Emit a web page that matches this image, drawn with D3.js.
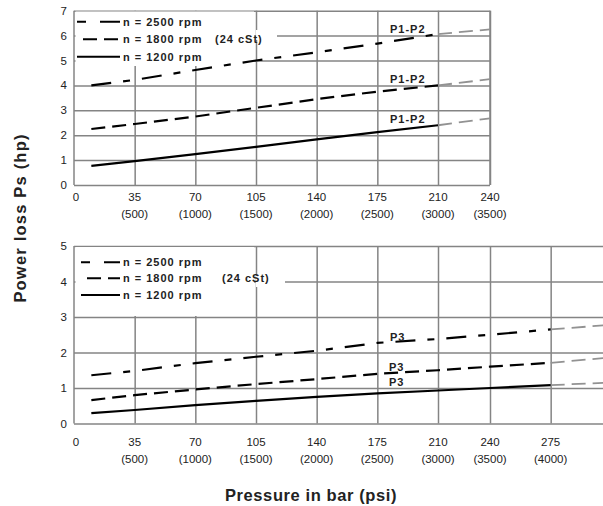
<!DOCTYPE html>
<html>
<head>
<meta charset="utf-8">
<script src="https://cdn.jsdelivr.net/npm/d3@7"></script>
<style>
  body { margin: 0; background: #fff; }
  text { font-family: "Liberation Sans", Arial, sans-serif; fill: #222; }
  .bold { font-weight: bold; letter-spacing: 1px; }
</style>
</head>
<body>
<svg id="chart" width="603" height="506"></svg>
<script>
// data
const pressureTop = [10, 35, 70, 105, 140, 175, 210, 240];
const p12_2500 = [4.0, 4.22, 4.62, 5.0, 5.33, 5.68, 6.06, 6.25];
const p12_1800 = [2.25, 2.45, 2.75, 3.1, 3.45, 3.75, 4.0, 4.25];
const p12_1200 = [0.77, 0.96, 1.24, 1.53, 1.83, 2.12, 2.4, 2.68];

const pressureBottom = [10, 35, 70, 105, 140, 175, 210, 240, 275, 307];
const p3_2500 = [1.36, 1.48, 1.7, 1.88, 2.05, 2.27, 2.38, 2.5, 2.65, 2.77];
const p3_1800 = [0.66, 0.8, 0.96, 1.11, 1.25, 1.4, 1.5, 1.6, 1.71, 1.85];
const p3_1200 = [0.29, 0.38, 0.52, 0.64, 0.75, 0.85, 0.93, 1.0, 1.08, 1.15];

const barTicksTop = [0, 35, 70, 105, 140, 175, 210, 240];
const psiTicksTop = ["", "(500)", "(1000)", "(1500)", "(2000)", "(2500)", "(3000)", "(3500)"];
const barTicksBottom = [0, 35, 70, 105, 140, 175, 210, 240, 275];
const psiTicksBottom = ["", "(500)", "(1000)", "(1500)", "(2000)", "(2500)", "(3000)", "(3500)", "(4000)"];
const hpTicksTop = [0, 1, 2, 3, 4, 5, 6, 7];
const hpTicksBottom = [0, 1, 2, 3, 4, 5];

const legendLabels = ["n = 2500 rpm", "n = 1800 rpm", "n = 1200 rpm"];
const viscosity = "(24 cSt)";

// limits where the black line becomes gray
const limitTop = 210;
const limitBottom = 275;

const svg = d3.select("#chart");
const gridCol = "#848484";
const dashes = ["20,12,7,12", "14,7", null];

const x = d3.scaleLinear().domain([0, 240]).range([74, 490]);
const yTop = d3.scaleLinear().domain([0, 7]).range([185, 10.7]);
const yBot = d3.scaleLinear().domain([0, 5]).range([423.5, 246]);

// grid + frame via axes
function grid(g, y, xTicks, yTicks, xEnd) {
    g.append("g")
        .attr("transform", "translate(0," + y.range()[1] + ")")
        .call(d3.axisBottom(x).tickValues(xTicks.filter(d => d > 0)).tickSize(y.range()[0] - y.range()[1]).tickFormat(""))
        .call(a => a.select(".domain").remove())
        .selectAll("line").attr("stroke", gridCol).attr("stroke-width", 1.5);
    g.append("g")
        .attr("transform", "translate(" + x(0) + ",0)")
        .call(d3.axisRight(y).tickValues(yTicks).tickSize(xEnd - x(0)).tickFormat(""))
        .call(a => a.select(".domain").remove())
        .selectAll("line").attr("stroke", gridCol).attr("stroke-width", 1.5);
    g.append("line").attr("x1", x(0)).attr("x2", x(0))
        .attr("y1", y.range()[1]).attr("y2", y.range()[0])
        .attr("stroke", gridCol).attr("stroke-width", 1.5);
}

function tickLabels(g, y, bars, psi, yTicks, yb) {
    g.selectAll(".bt").data(bars).enter().append("text")
        .attr("x", d => x(d) + (d === 0 ? 2 : 0)).attr("y", yb)
        .attr("text-anchor", "middle").attr("font-size", 11.5).text(d => d);
    g.selectAll(".pt").data(psi).enter().append("text")
        .attr("x", (d, i) => x(bars[i])).attr("y", yb + 17)
        .attr("text-anchor", "middle").attr("font-size", 11.5).text(d => d);
    g.selectAll(".yt").data(yTicks).enter().append("text")
        .attr("x", 67).attr("y", d => y(d) + 4)
        .attr("text-anchor", "end").attr("font-size", 11.5).text(d => d);
}

function legend(g, x0, ys, cst) {
    g.selectAll(".lg").data(legendLabels).enter().append("line")
        .attr("x1", (d, i) => i === 1 ? x0 + 6 : x0).attr("x2", 120)
        .attr("y1", (d, i) => ys[i]).attr("y2", (d, i) => ys[i])
        .attr("stroke", "#000").attr("stroke-width", 2)
        .attr("stroke-dasharray", (d, i) => i === 0 ? "9,14,20,0" : dashes[i]);
    g.selectAll(".lt").data(legendLabels).enter().append("text")
        .attr("class", "bold")
        .attr("x", 123).attr("y", (d, i) => ys[i] + 4)
        .attr("font-size", 11).text(d => d);
    g.append("text").attr("class", "bold").attr("x", cst).attr("y", ys[1] + 4)
        .attr("font-size", 11).text(viscosity);
}

function curves(g, y, px, series, limit, label, labelPos) {
    const line = d3.line().x(d => x(d[0])).y(d => y(d[1]));
    series.forEach((s, i) => {
        const pts = px.map((p, k) => [p, s[k]]);
        g.append("path").datum(pts.filter(d => d[0] >= limit))
            .attr("d", line).attr("fill", "none")
            .attr("stroke", "#929292").attr("stroke-width", 1.8)
            .attr("stroke-dasharray", "14,7");
        g.append("path").datum(pts.filter(d => d[0] <= limit))
            .attr("d", line).attr("fill", "none")
            .attr("stroke", "#000").attr("stroke-width", 2.2)
            .attr("stroke-dasharray", dashes[i]);
        g.append("text").attr("class", "bold")
            .attr("x", labelPos[i][0]).attr("y", labelPos[i][1])
            .attr("font-size", 11).text(label);
    });
}

// top chart, P1-P2
const gTop = svg.append("g");
grid(gTop, yTop, barTicksTop, hpTicksTop, x(240));
gTop.append("rect").attr("x", 75.5).attr("y", 11.5).attr("width", 178.5).attr("height", 54.5).attr("fill", "#fff");
gTop.append("rect").attr("x", 256).attr("y", 30).attr("width", 21).attr("height", 10).attr("fill", "#fff");
gTop.append("line").attr("x1", x(240)).attr("x2", x(240)).attr("y1", yTop(7)).attr("y2", yTop(0))
    .attr("stroke", gridCol).attr("stroke-width", 1.5);
tickLabels(gTop, yTop, barTicksTop, psiTicksTop, hpTicksTop, 201);
legend(gTop, 77, [21.7, 39.3, 56.7], 215);
curves(gTop, yTop, pressureTop, [p12_2500, p12_1800, p12_1200], limitTop, "P1-P2",
    [[390, 33], [390, 83], [390, 123]]);

// bottom chart, P3
const gBot = svg.append("g");
grid(gBot, yBot, barTicksBottom, hpTicksBottom, 603);
gBot.append("rect").attr("x", 75.5).attr("y", 247).attr("width", 178.5).attr("height", 69).attr("fill", "#fff");
gBot.append("rect").attr("x", 256).attr("y", 276).attr("width", 29).attr("height", 11).attr("fill", "#fff");
tickLabels(gBot, yBot, barTicksBottom, psiTicksBottom, hpTicksBottom, 446);
legend(gBot, 81, [262.3, 278.3, 295], 222);
curves(gBot, yBot, pressureBottom, [p3_2500, p3_1800, p3_1200], limitBottom, "P3",
    [[390, 341], [389, 371], [389, 386]]);

// axis titles
svg.append("text").attr("transform", "translate(26,218) rotate(-90)")
    .attr("text-anchor", "middle").attr("font-size", 16.5).attr("font-weight", "bold")
    .attr("letter-spacing", 1.2)
    .text("Power loss Ps (hp)");
svg.append("text").attr("x", 311).attr("y", 501)
    .attr("text-anchor", "middle").attr("font-size", 16.5).attr("font-weight", "bold")
    .attr("letter-spacing", 0.6)
    .text("Pressure in bar (psi)");
</script>
</body>
</html>
